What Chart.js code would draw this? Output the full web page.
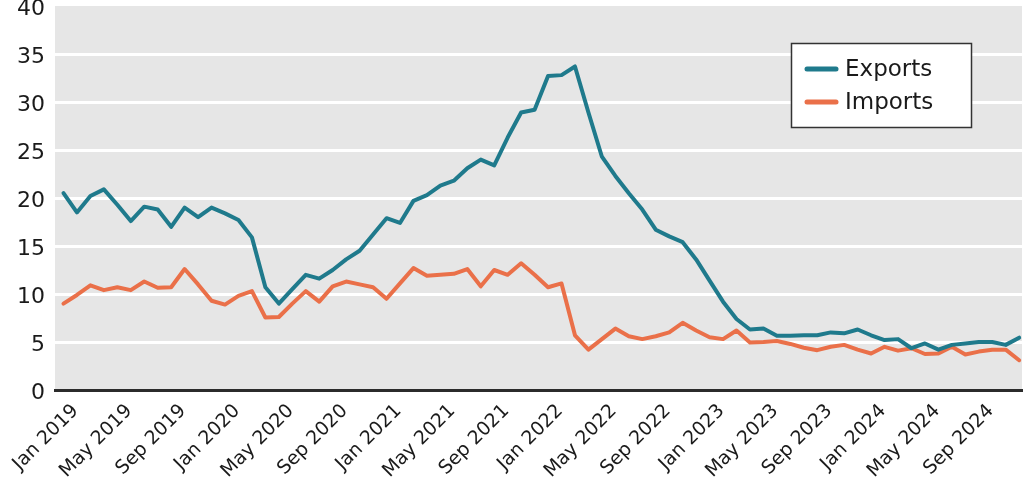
<!DOCTYPE html>
<html><head><meta charset="utf-8">
<script src="https://cdn.jsdelivr.net/npm/chart.js@4/dist/chart.umd.min.js"></script>
<style>html,body{margin:0;padding:0;background:#fff;}#wrap{width:1024px;height:492px;position:relative;}</style>
</head><body><div id="wrap"><canvas id="c" width="1024" height="492"></canvas></div>
<script>
const monthNames = ['Jan','Feb','Mar','Apr','May','Jun','Jul','Aug','Sep','Oct','Nov','Dec'];
const years = [2019, 2020, 2021, 2022, 2023, 2024];
const categories = years.flatMap(y => monthNames.map(m => m + ' ' + y));
const labelEvery = 4;
const yTicks = [0, 5, 10, 15, 20, 25, 30, 35, 40];

const exportsValues = [
  20.5, 18.5, 20.2, 20.9, 19.3, 17.6, 19.1, 18.8, 17.0, 19.0, 18.0, 19.0,
  18.4, 17.7, 15.9, 10.7, 9.0, 10.5, 12.0, 11.6, 12.5, 13.6, 14.5, 16.2,
  17.9, 17.4, 19.7, 20.3, 21.3, 21.8, 23.1, 24.0, 23.4, 26.3, 28.9, 29.2,
  32.7, 32.8, 33.7, 28.9, 24.3, 22.3, 20.5, 18.8, 16.7, 16.0, 15.4, 13.6,
  11.4, 9.2, 7.4, 6.3, 6.4, 5.65, 5.65, 5.7, 5.7, 6.0, 5.9, 6.3,
  5.7, 5.2, 5.3, 4.35, 4.85, 4.2, 4.7, 4.85, 5.0, 5.0, 4.7, 5.45
];
const importsValues = [
  9.0, 9.9, 10.9, 10.4, 10.7, 10.4, 11.3, 10.65, 10.7, 12.6, 11.0, 9.3,
  8.9, 9.8, 10.3, 7.55, 7.6, 9.0, 10.3, 9.2, 10.8, 11.3, 11.0, 10.7,
  9.5, 11.1, 12.7, 11.9, 12.0, 12.1, 12.6, 10.8, 12.5, 12.0, 13.2, 12.0,
  10.7, 11.1, 5.7, 4.2, 5.3, 6.4, 5.6, 5.3, 5.6, 6.0, 7.0, 6.2,
  5.5, 5.3, 6.2, 4.95, 5.0, 5.1, 4.8, 4.4, 4.15, 4.5, 4.7, 4.2,
  3.8, 4.5, 4.1, 4.35, 3.75, 3.8, 4.5, 3.7, 4.0, 4.2, 4.2, 3.1
];
const seriesNames = ['Exports', 'Imports'];
const seriesColors = ['#1f7a8c', '#ea7049'];

const FONT = "'DejaVu Sans', sans-serif";
const toPoints = arr => arr.map((v, i) => ({x: i, y: v}));

const bgPlugin = {
  id: 'bg',
  beforeDraw(chart) {
    const {ctx, chartArea: a} = chart;
    ctx.save();
    ctx.fillStyle = '#e6e6e6';
    ctx.fillRect(a.left, a.top, a.right - a.left, a.bottom - a.top);
    ctx.restore();
  }
};
const legendPlugin = {
  id: 'boxLegend',
  afterDraw(chart) {
    const ctx = chart.ctx;
    ctx.save();
    ctx.fillStyle = '#ffffff';
    ctx.fillRect(791, 43, 181, 85);
    ctx.strokeStyle = '#333333';
    ctx.lineWidth = 1.5;
    ctx.strokeRect(791.5, 43.5, 180, 84);
    chart.data.datasets.forEach((ds, k) => {
      const y = 69 + k * 33;
      ctx.strokeStyle = ds.borderColor;
      ctx.lineWidth = 5;
      ctx.lineCap = 'round';
      ctx.beginPath(); ctx.moveTo(807, y); ctx.lineTo(836, y); ctx.stroke();
      ctx.fillStyle = '#1a1a1a';
      ctx.font = "23px " + FONT;
      ctx.textBaseline = 'middle';
      ctx.textAlign = 'left';
      ctx.fillText(ds.label, 845, y + 1);
    });
    ctx.restore();
  }
};

new Chart(document.getElementById('c'), {
  type: 'line',
  data: {
    datasets: [
      {label: seriesNames[0], data: toPoints(exportsValues), borderColor: seriesColors[0], backgroundColor: seriesColors[0]},
      {label: seriesNames[1], data: toPoints(importsValues), borderColor: seriesColors[1], backgroundColor: seriesColors[1]}
    ]
  },
  options: {
    responsive: false,
    animation: false,
    devicePixelRatio: 1,
    layout: {padding: {top: 6, right: 2, left: 0, bottom: 0}},
    elements: {
      line: {borderWidth: 4, tension: 0, borderJoinStyle: 'round', borderCapStyle: 'round'},
      point: {radius: 0, hoverRadius: 0}
    },
    plugins: {legend: {display: false}, tooltip: {enabled: false}},
    scales: {
      x: {
        type: 'linear',
        min: -0.63, max: 71.21,
        afterFit(s) { s.height = 102; s.paddingLeft = 0; s.paddingRight = 0; },
        afterBuildTicks(s) {
          s.ticks = categories.map((c, i) => i).filter(i => i % labelEvery === 0).map(v => ({value: v}));
        },
        grid: {display: false},
        border: {display: true, color: '#2b2b2b', width: 3},
        ticks: {
          autoSkip: false, maxRotation: 45, minRotation: 45, padding: 2, labelOffset: 12,
          color: '#1a1a1a', font: {family: FONT, size: 19},
          callback: v => categories[v]
        }
      },
      y: {
        min: 0, max: 40,
        afterFit(s) { s.width = 55; s.paddingTop = 0; s.paddingBottom = 0; },
        afterBuildTicks(s) { s.ticks = yTicks.map(v => ({value: v})); },
        grid: {
          color: c => (c.tick && (c.tick.value === 0 || c.tick.value === 40)) ? 'rgba(0,0,0,0)' : '#ffffff',
          lineWidth: 3, drawTicks: false
        },
        border: {display: false},
        ticks: {padding: 10, labelOffset: 3, color: '#1a1a1a', font: {family: FONT, size: 22}}
      }
    }
  },
  plugins: [bgPlugin, legendPlugin]
});
</script></body></html>
